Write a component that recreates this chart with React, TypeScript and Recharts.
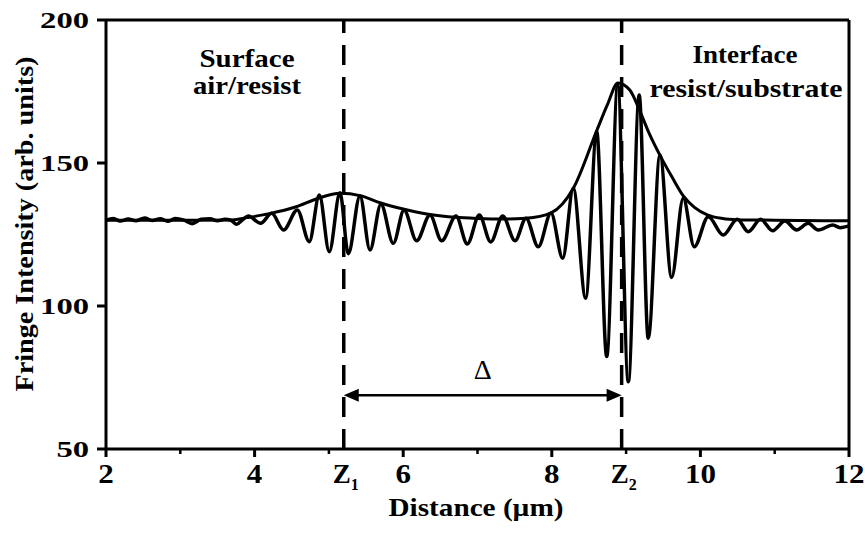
import { LineChart, Line, XAxis, YAxis, ReferenceLine } from "recharts";

// fringe signal: peaks and troughs (µm, arb. units)
const fringeX = [
  2.0, 2.1, 2.19, 2.3, 2.4, 2.52, 2.62, 2.73, 2.83, 2.93, 3.05, 3.16, 3.28, 3.4,
  3.5, 3.6, 3.68, 3.76, 3.84, 3.915, 4.08, 4.23, 4.39, 4.575, 4.736, 4.871, 5.005,
  5.149, 5.261, 5.418, 5.553, 5.7, 5.867, 6.011, 6.181, 6.361, 6.518, 6.711, 6.863,
  7.024, 7.178, 7.339, 7.505, 7.653, 7.818, 7.989, 8.147, 8.289, 8.456, 8.604, 8.739,
  8.887, 9.03, 9.176, 9.298, 9.456, 9.613, 9.769, 9.917, 10.106, 10.307, 10.496,
  10.644, 10.811, 10.972, 11.138, 11.295, 11.452, 11.586, 11.784, 11.88, 12.0,
];
const fringeY = [
  130.0, 130.6, 129.7, 130.4, 129.8, 130.8, 129.9, 130.5, 129.6, 130.6, 130.0, 128.8,
  130.3, 130.5, 129.8, 130.3, 130.0, 128.6, 130.2, 131.5, 128.9, 132.4, 126.6, 133.6,
  122.5, 138.8, 119.0, 139.6, 118.3, 138.5, 119.6, 135.6, 121.9, 133.6, 122.8, 131.8,
  122.8, 131.5, 121.7, 131.8, 122.4, 131.5, 122.8, 130.7, 120.7, 132.5, 116.7, 141.2,
  102.7, 161.0, 82.3, 177.3, 73.5, 173.8, 88.7, 152.8, 110.0, 137.7, 120.7, 131.2,
  124.8, 130.3, 126.0, 130.3, 126.3, 129.7, 126.6, 128.9, 126.6, 128.3, 127.4, 128.0,
];

// envelope of the fringes
const envelopeX = [
  2.0, 3.0, 3.7, 3.9, 4.2, 4.55, 4.85, 5.15, 5.42, 5.7, 6.0, 6.36, 6.7, 7.0, 7.35,
  7.65, 7.99, 8.29, 8.6, 8.75, 8.89, 9.05, 9.18, 9.3, 9.46, 9.62, 9.77, 9.92, 10.1,
  10.3, 10.5, 11.0, 12.0,
];
const envelopeY = [
  130, 130, 130.1, 130.9, 132.3, 134.6, 137.6, 139.4, 138.6, 136.0, 133.9, 132.0,
  131.0, 130.6, 130.4, 130.7, 132.6, 141.2, 161, 170.5, 178, 175.5, 168.5, 161,
  152.5, 145, 138.5, 134.5, 131.8, 130.6, 130.2, 130.0, 129.8,
];

const Z1 = 5.2;
const Z2 = 8.94;
const ARROW_Y = 68.8;

const xTicks = [2, 3, 4, 5, Z1, 6, 7, 8, Z2, 9, 10, 11, 12];
const yTicks = [50, 100, 150, 200];

const fringe = fringeX.map((x, i) => ({ x, y: fringeY[i] }));
const envelope = envelopeX.map((x, i) => ({ x, y: envelopeY[i] }));

const SERIF = "Liberation Serif, Times New Roman, serif";
const serifBold = { fontFamily: SERIF, fontWeight: 700 };

function XTick(props: any) {
  const { x, y, payload } = props;
  const v = payload.value;
  if (v === Z1 || v === Z2) {
    return (
      <text x={x - 11} y={y + 34} style={serifBold} fontSize={27} fill="#000">
        Z
        <tspan fontSize={16} dy={7}>
          {v === Z1 ? "1" : "2"}
        </tspan>
      </text>
    );
  }
  const major = v % 2 === 0;
  return (
    <g>
      <line x1={x} y1={y} x2={x} y2={y + (major ? 8 : 5)} stroke="#000" strokeWidth={major ? 3 : 2.5} />
      {major && (
        <text
          x={x}
          y={y + 34}
          textAnchor="middle"
          style={serifBold}
          fontSize={27}
          fill="#000"
          textLength={String(v).length * 15.5}
          lengthAdjust="spacingAndGlyphs"
        >
          {v}
        </text>
      )}
    </g>
  );
}

function YTick(props: any) {
  const { x, y, payload } = props;
  const s = String(payload.value);
  return (
    <g>
      <line x1={x - 9} y1={y} x2={x} y2={y} stroke="#000" strokeWidth={3} />
      <text
        x={x - 17 - s.length * 16.3}
        y={y + 8}
        style={serifBold}
        fontSize={24}
        fill="#000"
        textLength={s.length * 16.3}
        lengthAdjust="spacingAndGlyphs"
      >
        {s}
      </text>
    </g>
  );
}

function DeltaArrow(props: any) {
  const { x1, y1, x2, y2 } = props;
  const head = 15;
  const half = 6.5;
  return (
    <g>
      <line x1={x1 + head - 1} y1={y1} x2={x2 - head + 1} y2={y2} stroke="#000" strokeWidth={2.5} />
      <polygon points={`${x1},${y1} ${x1 + head},${y1 - half} ${x1 + head},${y1 + half}`} fill="#000" />
      <polygon points={`${x2},${y2} ${x2 - head},${y2 - half} ${x2 - head},${y2 + half}`} fill="#000" />
      <text x={(x1 + x2) / 2} y={y1 - 16} textAnchor="middle" style={{ fontFamily: SERIF }} fontSize={28} fill="#000">
        Δ
      </text>
    </g>
  );
}

export default function App() {
  return (
    <div style={{ position: "absolute", left: 0, top: 0, width: 865, height: 533, background: "#fff" }}>
      <LineChart width={865} height={533} margin={{ top: 20, right: 16, bottom: 54, left: 46 }}>
        <XAxis
          type="number"
          dataKey="x"
          domain={[2, 12]}
          ticks={xTicks}
          interval={0}
          height={30}
          tickSize={0}
          tickMargin={0}
          tickLine={false}
          tick={<XTick />}
          axisLine={{ stroke: "#000", strokeWidth: 3 }}
        />
        <YAxis
          type="number"
          dataKey="y"
          domain={[50, 200]}
          ticks={yTicks}
          interval={0}
          width={60}
          tickSize={0}
          tickMargin={0}
          tickLine={false}
          tick={<YTick />}
          axisLine={{ stroke: "#000", strokeWidth: 3 }}
        />
        <ReferenceLine y={200} stroke="#000" strokeWidth={3} />
        <ReferenceLine x={12} stroke="#000" strokeWidth={3} />
        <ReferenceLine x={Z1} stroke="#000" strokeWidth={3.5} strokeDasharray="20 12" />
        <ReferenceLine x={Z2} stroke="#000" strokeWidth={3.5} strokeDasharray="20 12" />
        <Line
          data={envelope}
          dataKey="y"
          type="monotone"
          stroke="#000"
          strokeWidth={3}
          dot={false}
          isAnimationActive={false}
        />
        <Line
          data={fringe}
          dataKey="y"
          type="monotone"
          stroke="#000"
          strokeWidth={3.5}
          dot={false}
          isAnimationActive={false}
        />
        <ReferenceLine
          segment={[
            { x: Z1, y: ARROW_Y },
            { x: Z2, y: ARROW_Y },
          ]}
          shape={<DeltaArrow />}
        />
      </LineChart>
      <svg
        width={865}
        height={533}
        style={{ position: "absolute", left: 0, top: 0, pointerEvents: "none" }}
      >
        <g style={serifBold} fill="#000" fontSize={26}>
          <text x={247} y={67} textAnchor="middle" textLength={95} lengthAdjust="spacingAndGlyphs">
            Surface
          </text>
          <text x={247} y={94} textAnchor="middle" textLength={108} lengthAdjust="spacingAndGlyphs">
            air/resist
          </text>
          <text x={745} y={63} textAnchor="middle" textLength={105} lengthAdjust="spacingAndGlyphs">
            Interface
          </text>
          <text x={746} y={97} textAnchor="middle" textLength={193} lengthAdjust="spacingAndGlyphs">
            resist/substrate
          </text>
          <text x={476} y={516} textAnchor="middle" fontSize={25} textLength={175} lengthAdjust="spacingAndGlyphs">
            Distance (µm)
          </text>
          <text
            x={0}
            y={0}
            transform="translate(33 224) rotate(-90)"
            textAnchor="middle"
            fontSize={25}
            textLength={335}
            lengthAdjust="spacingAndGlyphs"
          >
            Fringe Intensity (arb. units)
          </text>
        </g>
      </svg>
    </div>
  );
}
